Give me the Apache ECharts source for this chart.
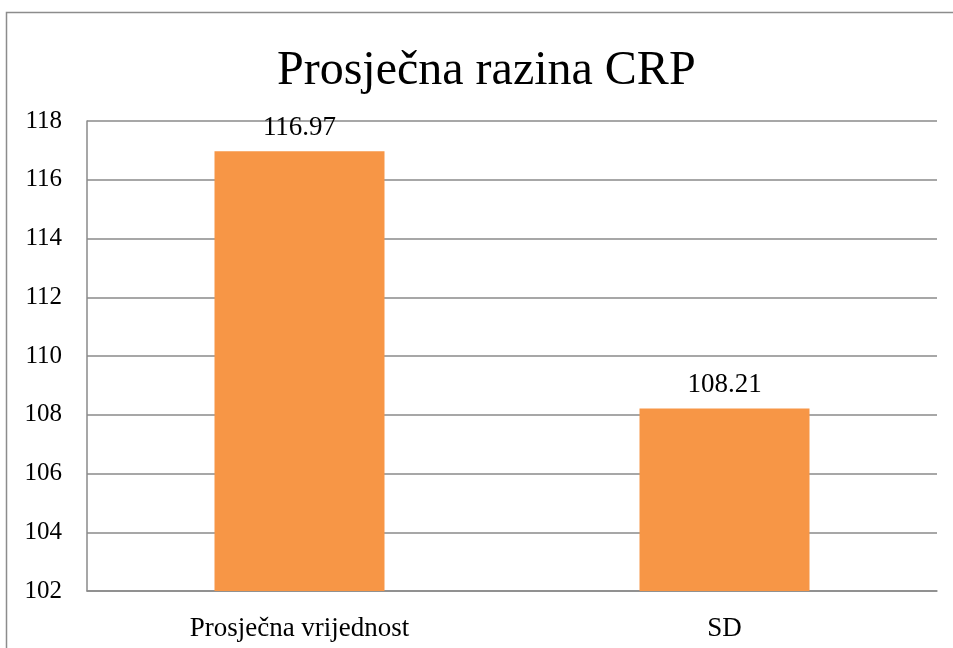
<!DOCTYPE html>
<html>
<head>
<meta charset="utf-8">
<script src="https://cdn.jsdelivr.net/npm/echarts@6/dist/echarts.min.js"></script>
<style>
  html, body { margin: 0; padding: 0; background: #fff; }
  #chart { width: 953px; height: 648px; }
</style>
</head>
<body>
<div id="chart"></div>
<script>
// kategorije i vrijednosti
var categories = ['Prosječna vrijednost', 'SD'];
var values = [116.97, 108.21];
var yMin = 102, yMax = 118, yStep = 2;

var chart = echarts.init(document.getElementById('chart'));
var serif = '"Liberation Serif", "DejaVu Serif", serif';
var lineGray = '#8a8a8a';

var option = {
    backgroundColor: '#fff',
    animation: false,
    title: {
        text: 'Prosječna razina CRP',
        left: 272,
        top: 42,
        textStyle: { fontFamily: serif, fontSize: 48, fontWeight: 'normal', color: '#000' }
    },
    graphic: [{
        type: 'rect',
        shape: { x: 6.5, y: 12.5, width: 1000, height: 700 },
        style: { fill: 'none', stroke: '#8c8c8c', lineWidth: 1.5 },
        silent: true
    }],
    grid: { left: 87, right: 16, top: 121, bottom: 57 },
    xAxis: {
        type: 'category',
        data: categories,
        axisLine: { show: true, lineStyle: { color: lineGray, width: 1.5 } },
        axisTick: { show: false },
        axisLabel: { fontFamily: serif, fontSize: 27, color: '#000', margin: 24 }
    },
    yAxis: {
        type: 'value',
        min: yMin,
        max: yMax,
        interval: yStep,
        axisLine: { show: true, lineStyle: { color: lineGray, width: 1.5 } },
        axisTick: { show: false },
        splitLine: { lineStyle: { color: lineGray, width: 1.5 } },
        axisLabel: { fontFamily: serif, fontSize: 25, color: '#000', margin: 25 }
    },
    series: [{
        type: 'bar',
        data: values,
        barWidth: '40%',
        itemStyle: { color: '#F79646' },
        label: {
            show: true,
            position: 'top',
            distance: 10,
            fontFamily: serif,
            fontSize: 27,
            color: '#000',
            formatter: function (p) { return p.value.toFixed(2); }
        }
    }]
};

chart.setOption(option);
window.addEventListener('resize', function () { chart.resize(); });
</script>
</body>
</html>
